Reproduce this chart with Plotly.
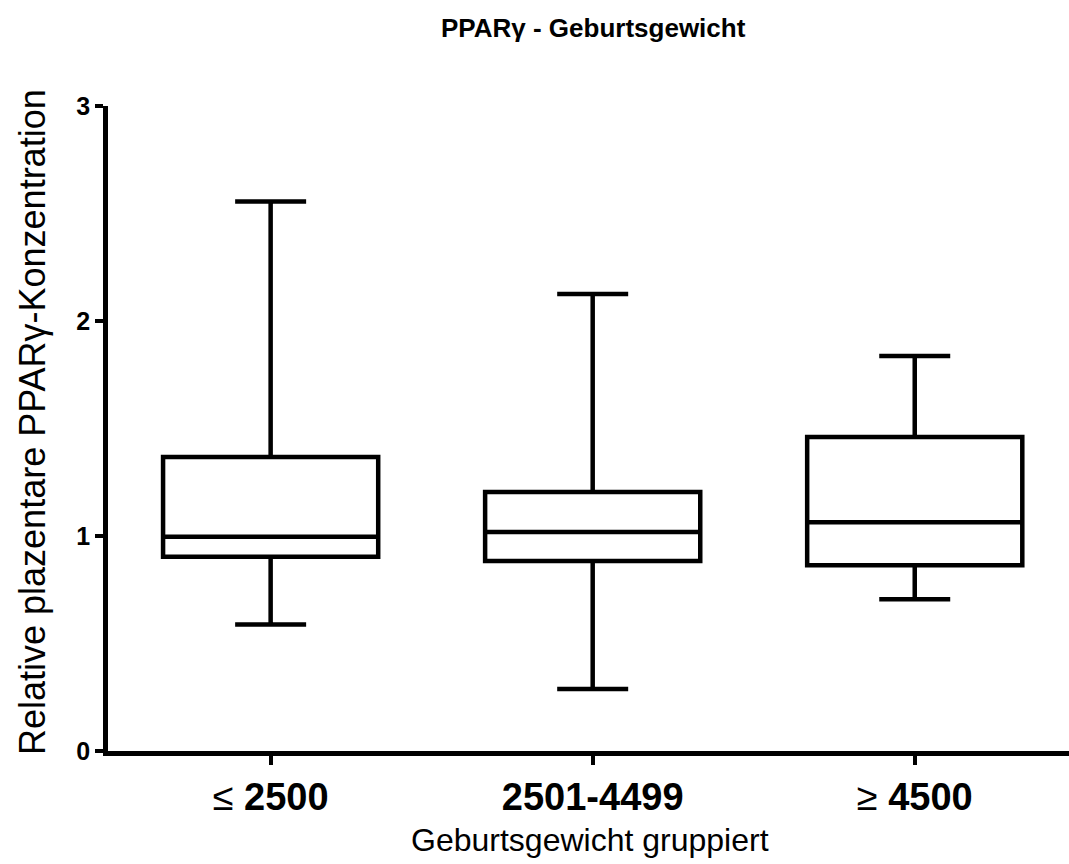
import plotly.graph_objects as go

categories = ["≤ 2500", "2501-4499", "≥ 4500"]
tick_labels = ["≤ <b>2500</b>", "<b>2501-4499</b>", "≥ <b>4500</b>"]
y_ticks = [0, 1, 2, 3]
q1 = [0.903, 0.884, 0.864]
median = [0.997, 1.019, 1.064]
q3 = [1.367, 1.205, 1.460]
lower = [0.588, 0.288, 0.706]
upper = [2.556, 2.126, 1.837]

ARIAL = "Liberation Sans, Arial, sans-serif"

W, H = 1069, 864
L, R, T, B = 108, 0, 106, 113
pw = W - L - R
ph = H - T - B


def px(x):
    return (x - L) / pw


def py(y):
    return (H - B - y) / ph


fig = go.Figure()
for i, c in enumerate(categories):
    fig.add_trace(go.Box(
        x=[c], q1=[q1[i]], median=[median[i]], q3=[q3[i]],
        lowerfence=[lower[i]], upperfence=[upper[i]],
        width=0.668, whiskerwidth=0.33,
        line=dict(color="black", width=4.5), fillcolor="white",
        boxpoints=False, showlegend=False, hoverinfo="skip",
    ))

fig.update_layout(
    width=W, height=H,
    margin=dict(l=L, r=R, t=T, b=B),
    paper_bgcolor="white", plot_bgcolor="white",
    showlegend=False,
)

fig.add_annotation(text="<b>PPARγ - Geburtsgewicht</b>", x=px(593), y=py(28),
                   xref="paper", yref="paper", showarrow=False,
                   xanchor="center", yanchor="middle",
                   font=dict(family=ARIAL, size=26, color="black"))
fig.add_annotation(text="Relative plazentare PPARγ-Konzentration", textangle=-90,
                   x=px(32), y=py(422), xref="paper", yref="paper",
                   showarrow=False, font=dict(family=ARIAL, size=36, color="black"),
                   xanchor="center", yanchor="middle")
fig.add_annotation(text="Geburtsgewicht gruppiert",
                   x=px(590), y=py(840), xref="paper", yref="paper",
                   showarrow=False, font=dict(family=ARIAL, size=32, color="black"),
                   xanchor="center", yanchor="middle")

fig.update_xaxes(
    type="category", categoryorder="array", categoryarray=categories,
    range=[-0.505, 2.479],
    tickvals=categories, ticktext=tick_labels,
    showline=True, linecolor="black", linewidth=4.5,
    ticks="outside", ticklen=9, tickwidth=4, tickcolor="black",
    tickfont=dict(family=ARIAL, size=38, color="black"),
    showgrid=False, zeroline=False,
)
fig.update_yaxes(
    range=[0, 3], tickvals=y_ticks, ticktext=[f"<b>{v}</b>" for v in y_ticks],
    showline=True, linecolor="black", linewidth=4.5,
    ticks="outside", ticklen=8, tickwidth=4, tickcolor="black",
    tickfont=dict(family=ARIAL, size=25, color="black"),
    showgrid=False, zeroline=False,
)

fig.write_html("out.html")
